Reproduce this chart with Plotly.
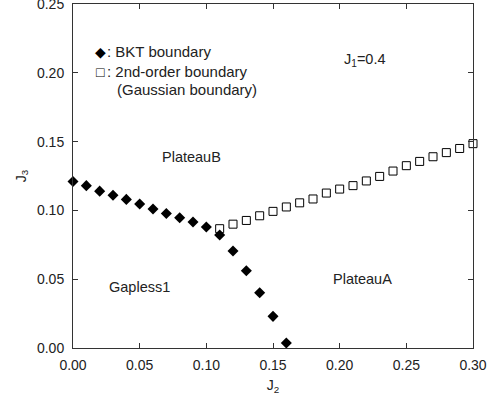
import plotly.graph_objects as go

# BKT boundary (filled diamonds)
bkt_j2 = [0.00, 0.01, 0.02, 0.03, 0.04, 0.05, 0.06, 0.07, 0.08, 0.09, 0.10,
          0.11, 0.12, 0.13, 0.14, 0.15, 0.16]
bkt_j3 = [0.121, 0.118, 0.114, 0.111, 0.108, 0.1046, 0.101, 0.0978, 0.0947,
          0.0916, 0.0879, 0.0821, 0.0705, 0.0562, 0.0402, 0.023, 0.0036]

# 2nd-order (Gaussian) boundary (open squares)
gauss_j2 = [0.11, 0.12, 0.13, 0.14, 0.15, 0.16, 0.17, 0.18, 0.19, 0.20,
            0.21, 0.22, 0.23, 0.24, 0.25, 0.26, 0.27, 0.28, 0.29, 0.30]
gauss_j3 = [0.0867, 0.090, 0.0927, 0.0961, 0.0993, 0.1025, 0.1055, 0.1083,
            0.1126, 0.1155, 0.118, 0.1214, 0.1247, 0.1286, 0.1325, 0.1356,
            0.139, 0.142, 0.145, 0.1485]

x_ticks = [0.00, 0.05, 0.10, 0.15, 0.20, 0.25, 0.30]
y_ticks = [0.00, 0.05, 0.10, 0.15, 0.20, 0.25]

FONT = "Liberation Sans, Arial, Helvetica, sans-serif"
INK = "#222222"

fig = go.Figure()
fig.add_trace(go.Scatter(
    x=bkt_j2, y=bkt_j3, mode="markers", name="BKT boundary",
    marker=dict(symbol="diamond", size=8.5, color="black", line=dict(width=0)),
    cliponaxis=False, showlegend=False,
))
fig.add_trace(go.Scatter(
    x=gauss_j2, y=gauss_j3, mode="markers",
    name="2nd-order boundary (Gaussian boundary)",
    marker=dict(symbol="square-open", size=8, color="black", line=dict(width=1)),
    cliponaxis=False, showlegend=False,
))

# region labels
labels = [
    ("PlateauB", 0.089, 0.139),
    ("J<sub>1</sub>=0.4", 0.219, 0.209),
    ("Gapless1", 0.0497, 0.044),
    ("PlateauA", 0.217, 0.0502),
]
for txt, x, y in labels:
    fig.add_annotation(x=x, y=y, text=txt, showarrow=False,
                       font=dict(family=FONT, size=14.5, color=INK))

# key (legend): symbol glyphs and their texts
key_glyphs = [
    ("\u25C6", 0.0204, 0.2153),
    ("\u25A1", 0.0206, 0.2008),
]
for txt, x, y in key_glyphs:
    fig.add_annotation(x=x, y=y, text=txt, showarrow=False, xanchor="center",
                       font=dict(family=FONT, size=14, color="black"))

key = [
    (": BKT boundary", 0.0239, 0.2153),
    (": 2nd-order boundary", 0.0239, 0.2008),
    ("(Gaussian boundary)", 0.0313, 0.1877),
]
for txt, x, y in key:
    fig.add_annotation(x=x, y=y, text=txt, showarrow=False, xanchor="left",
                       font=dict(family=FONT, size=15, color=INK))

axis_common = dict(
    showgrid=False, zeroline=False, showline=True, linecolor="#333333",
    linewidth=1, mirror="ticks", ticks="inside", ticklen=5, tickwidth=1,
    tickcolor="#333333", tickfont=dict(family=FONT, size=14, color=INK),
    ticklabeloverflow="allow", automargin=False,
)

fig.update_layout(
    width=495, height=398,
    margin=dict(l=73, r=22, t=4, b=50),
    paper_bgcolor="white", plot_bgcolor="white",
    font=dict(family=FONT, color=INK),
    showlegend=False,
    xaxis=dict(range=[0, 0.30], tickvals=x_ticks, tickformat=".2f",
               ticklabelstandoff=4,
               title=dict(text="J<sub>2</sub>", font=dict(family=FONT, size=14, color=INK), standoff=8),
               **axis_common),
    yaxis=dict(range=[0, 0.25], tickvals=y_ticks, tickformat=".2f",
               ticklabelstandoff=5,
               title=dict(text="J<sub>3</sub>", font=dict(family=FONT, size=14, color=INK), standoff=7),
               **axis_common),
)

fig.write_html("out.html")
